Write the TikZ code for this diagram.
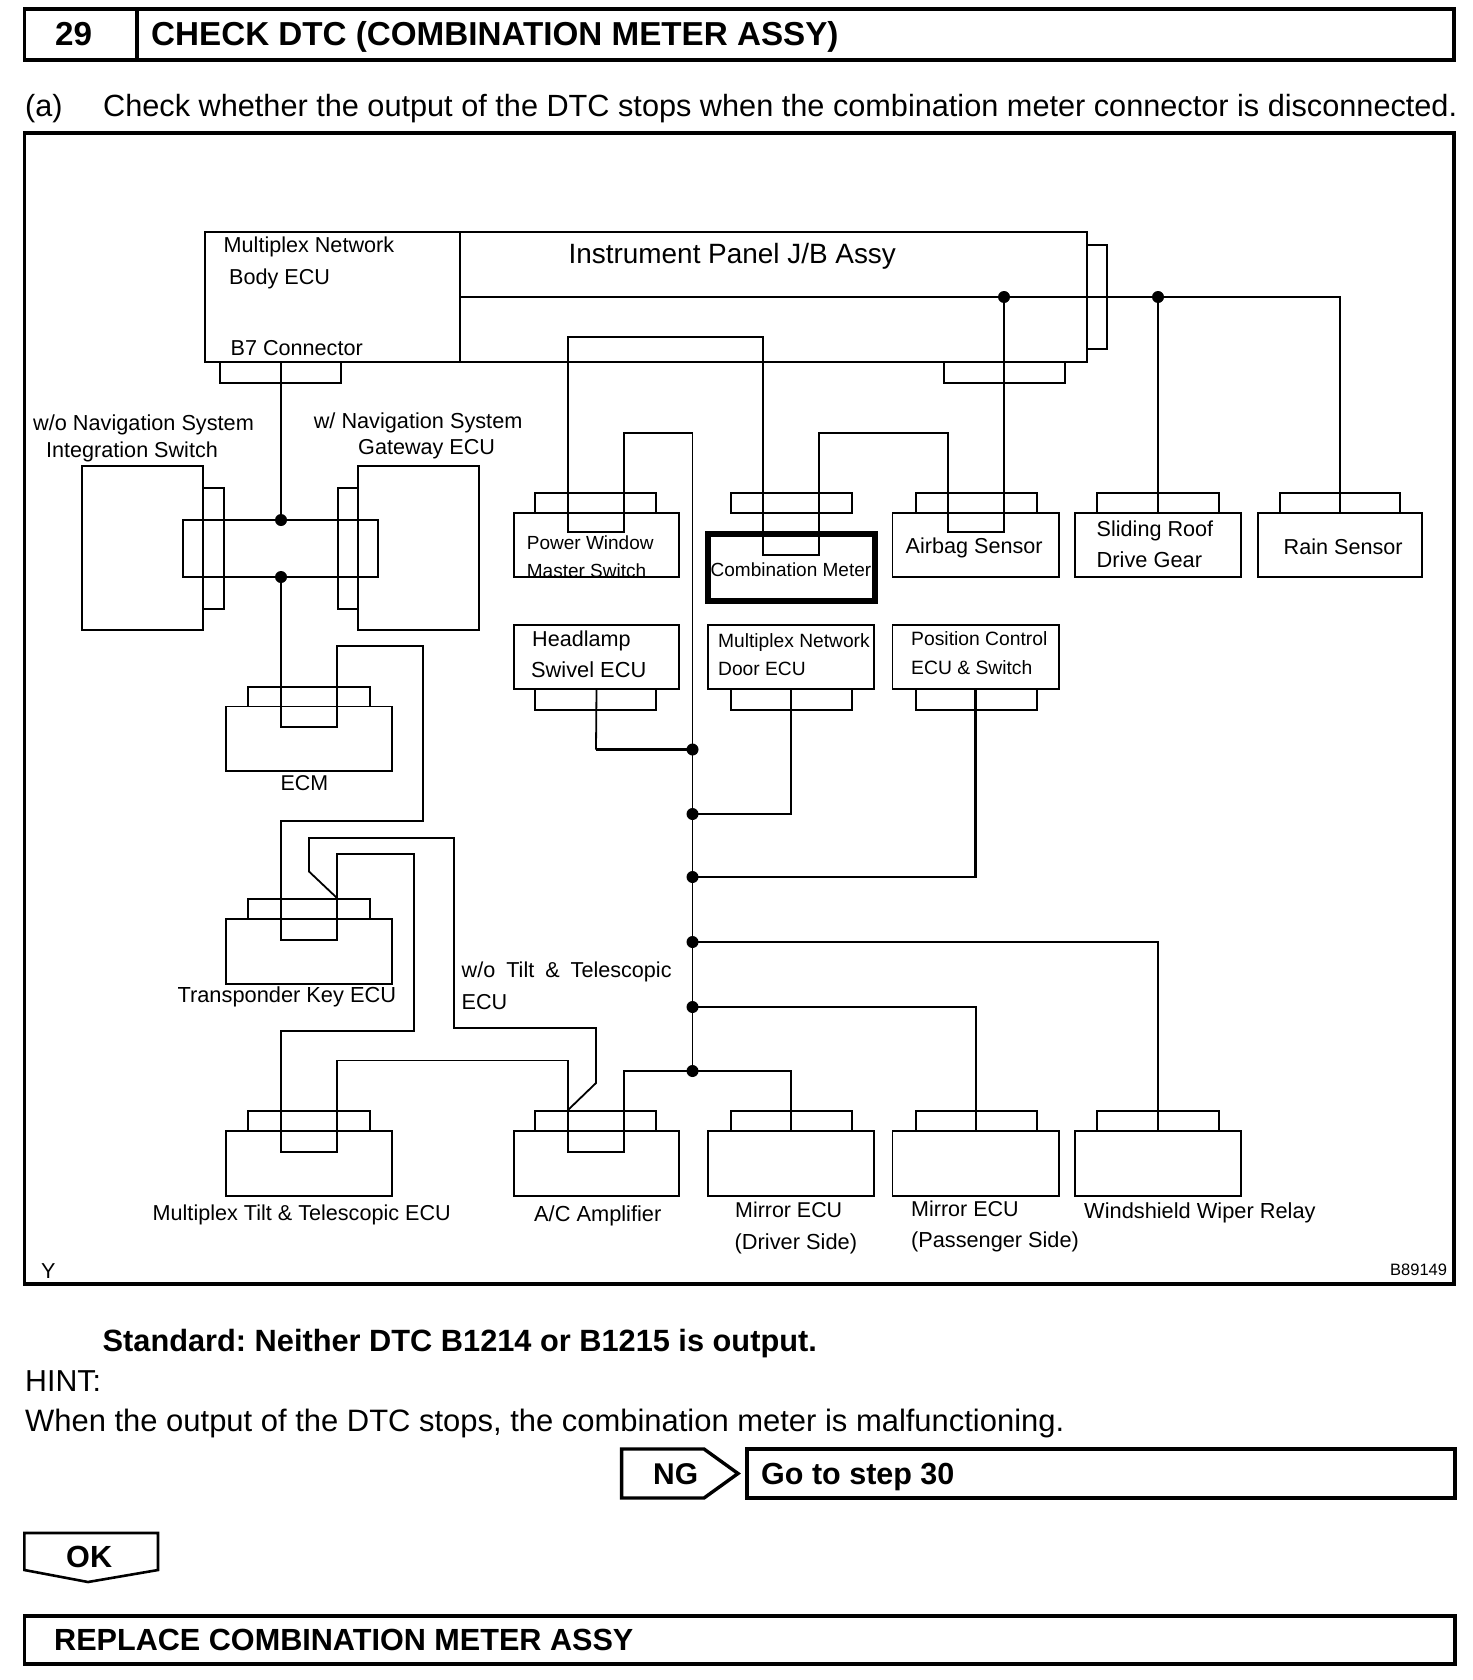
\documentclass[tikz,border=0pt]{standalone}
\usepackage{fontspec}
\setmainfont{Liberation Sans}
\tikzset{
  unit/.style 2 args={draw, line width=1.8pt, outer sep=0pt, inner sep=0pt, minimum width=#1, minimum height=#2},
  frame/.style 2 args={draw, line width=3.4pt, outer sep=0pt, inner sep=0pt, minimum width=#1, minimum height=#2},
  dot/.style={circle, fill, inner sep=0pt, minimum size=12pt},
  wire/.style={line width=1.8pt, line join=miter},
  thinwire/.style={line width=1.3pt},
  heavywire/.style={line width=2.7pt},
  lbl/.style={anchor=base west, inner sep=0pt, font=\fontsize{#1}{#1}\selectfont\frenchspacing},
  blbl/.style={anchor=base west, inner sep=0pt, font=\fontsize{#1}{#1}\selectfont\bfseries\frenchspacing}
}
\begin{document}
\begin{tikzpicture}[x=1pt,y=-1pt]
  \useasboundingbox (0,0) rectangle (1472,1680);
  \fill[white] (0,0) rectangle (1472,1680);

  % heading and outer frames
  \node[frame={113}{51}] (numbox) at (80.7,34.5) {};
  \node[frame={1317}{51}] (titlebox) at (795.5,34.5) {};
  \node[frame={1429.6}{1151}] (sheet) at (739.2,708.5) {};
  \node[frame={708}{49}] (gotobox) at (1101,1473.5) {};
  \node[frame={1430.6}{48}] (replacebox) at (739.7,1640) {};
  \draw[line width=3.4pt] (621.6,1449) -- (704,1449) -- (738,1473.5) -- (704,1498) -- (621.6,1498) -- cycle;
  \draw[line width=2.6pt] (24.4,1533) -- (158,1533) -- (158,1570) -- (88,1582) -- (24.4,1570) -- cycle;

  % top units
  \node[unit={255}{130}] (body) at (332.5,297) {};
  \node[unit={627}{130}] (jb) at (773.5,297) {};
  \node[unit={20}{104}] (jbside) at (1097,297) {};
  \node[unit={121}{21}] (jbtab) at (1004.5,372.5) {};
  \node[unit={121}{21}] (bodytab) at (280.5,372.5) {};

  % navigation pair
  \node[unit={121}{164}] (intsw) at (142.5,548) {};
  \node[unit={21}{121}] (intswtab) at (213.5,548.5) {};
  \node[unit={121}{164}] (gateway) at (418.5,548) {};
  \node[unit={20}{121}] (gatewaytab) at (348,548.5) {};

  % first row
  \node[unit={165}{64}] (powerwin) at (596.5,545) {};
  \node[unit={121}{20}] (powerwintab) at (595.5,503) {};
  \node[unit={121}{20}] (combtab) at (791.25,503) {};
  \node[draw, line width=5.2pt, outer sep=0pt, minimum width=167, minimum height=67] (comb) at (791.5,567.5) {};
  \node[unit={166.5}{64}] (airbag) at (975.75,545) {};
  \node[unit={121}{20}] (airbagtab) at (976.5,503) {};
  \node[unit={166}{64}] (sliding) at (1158,545) {};
  \node[unit={122}{20}] (slidingtab) at (1158,503) {};
  \node[unit={164}{64}] (rain) at (1340,545) {};
  \node[unit={120}{20}] (raintab) at (1340,503) {};

  % second row
  \node[unit={165}{64}] (headlamp) at (596.5,657) {};
  \node[unit={121}{21}] (headlamptab) at (595.5,699.5) {};
  \node[unit={166}{64}] (door) at (791,657) {};
  \node[unit={121}{21}] (doortab) at (791.25,699.5) {};
  \node[unit={166.5}{64}] (position) at (975.75,657) {};
  \node[unit={121}{21}] (positiontab) at (976.5,699.5) {};

  % left column
  \node[unit={166}{64.5}] (ecm) at (309,738.75) {};
  \node[unit={122}{19.5}] (ecmtab) at (309,696.75) {};
  \node[unit={166}{65.4}] (transp) at (309,951.3) {};
  \node[unit={122}{19.6}] (transptab) at (309,908.8) {};

  % bottom row
  \node[unit={166}{65}] (tilt) at (309,1163.5) {};
  \node[unit={122}{20}] (tilttab) at (309,1121) {};
  \node[unit={165}{65}] (ac) at (596.5,1163.5) {};
  \node[unit={121}{20}] (actab) at (595.5,1121) {};
  \node[unit={166}{65}] (mirrord) at (791,1163.5) {};
  \node[unit={121}{20}] (mirrordtab) at (791.25,1121) {};
  \node[unit={166.5}{65}] (mirrorp) at (975.75,1163.5) {};
  \node[unit={121}{20}] (mirrorptab) at (976.5,1121) {};
  \node[unit={166}{65}] (wiper) at (1158,1163.5) {};
  \node[unit={122}{20}] (wipertab) at (1158,1121) {};

  % junctions
  \node[dot] (jbus1) at (1004,297) {};
  \node[dot] (jbus2) at (1158,297) {};
  \node[dot] (jsw1) at (281,520) {};
  \node[dot] (jsw2) at (281,577) {};
  \node[dot] (jm1) at (692.5,749.5) {};
  \node[dot] (jm2) at (692.5,814) {};
  \node[dot] (jm3) at (692.5,877) {};
  \node[dot] (jm4) at (692.5,942) {};
  \node[dot] (jm5) at (692.5,1007) {};
  \node[dot] (jm6) at (692.5,1071) {};
  \coordinate (jbstart) at (460,297);
  \coordinate (b7out) at (281,362);
  \coordinate (acpin) at (568,1110);
  \coordinate (transppin) at (337,898);

  % wiring
  \draw[wire] (jbstart) -- (jbus1.center) -- (jbus2.center) -| (rain.north);
  \draw[wire] (jbus2.center) -- (sliding.north);
  \draw[wire] (b7out) -- (jsw1.center);
  \draw[wire] (jsw1.center) -| (183,577) -- (378,577) |- (jsw1.center);
  \draw[wire] (jbus1.center) -- (1004,532) -- (948,532) -- (948,433) -- (819,433) -- (819,555) -- (763,555) -- (763,337) -- (568,337) -- (568,532) -- (624,532) -- (624,433) -- (692.5,433) -- (692.5,500);
  \draw[thinwire] (692.5,500) -- (jm1.center) -- (jm2.center) -- (jm3.center) -- (jm4.center) -- (jm5.center) -- (jm6.center);
  \draw[wire] (headlamp.south) -- (596,749.5);
  \draw[heavywire] (596,749.5) -- (jm1.center);
  \draw[wire] (jm2.center) -| (door.south);
  \draw[heavywire] (jm3.center) -| (position.south);
  \draw[thinwire] (jm4.center) -| (wiper.north);
  \draw[wire] (jm5.center) -| (mirrorp.north);
  \draw[wire] (jm6.center) -| (mirrord.north);
  \draw[wire] (jm6.center) -- (624,1071) -- (624,1152) -- (568,1152) -- (568,1060.5) -- (337,1060.5) -- (337,1152) -- (281,1152) -- (281,1031) -- (414,1031) -- (414,854) -- (337,854) -- (337,940) -- (281,940) -- (281,821) -- (423,821) -- (423,646) -- (337,646) -- (337,727) -- (281,727) -- (jsw2.center);
  \draw[wire] (acpin) -- (596,1083) -- (596,1028) -- (454,1028) -- (454,838) -- (309,838) -- (309,871.5) -- (transppin);

  % heading texts
  \node[blbl=33.2] (stepnum) at (55,45.5) {29};
  \node[blbl=33.2] (steptitle) at (151,45.5) {CHECK DTC (COMBINATION METER ASSY)};
  \node[lbl=30.6] (itema) at (25,116.6) {(a)};
  \node[lbl=30.68] (itemtext) at (103,116.6) {Check whether the output of the DTC stops when the combination meter connector is disconnected.};

  % unit labels
  \node[lbl=21.6] (bodyA) at (223.5,253) {Multiplex Network};
  \node[lbl=21.6] (bodyB) at (229,284) {Body ECU};
  \node[lbl=21.6] (bodyC) at (230.5,355.6) {B7 Connector};
  \node[lbl=27.9] (jbname) at (568.5,264) {Instrument Panel J/B Assy};
  \node[lbl=21.7] (intA) at (33,430.5) {w/o Navigation System};
  \node[lbl=21.6] (intB) at (46,457.5) {Integration Switch};
  \node[lbl=21.7] (gateA) at (313.6,428.5) {w/ Navigation System};
  \node[lbl=21.6] (gateB) at (358,454.5) {Gateway ECU};
  \node[lbl=19] (pwA) at (526.7,549) {Power Window};
  \node[lbl=19] (pwB) at (526.7,577.5) {Master Switch};
  \node[lbl=19] (combname) at (710.5,576) {Combination Meter};
  \node[lbl=21.6] (airbagname) at (905.5,553.5) {Airbag Sensor};
  \node[lbl=21.6] (slA) at (1096.5,536) {Sliding Roof};
  \node[lbl=21.8] (slB) at (1096.5,567) {Drive Gear};
  \node[lbl=21.6] (rainname) at (1283.5,554) {Rain Sensor};
  \node[lbl=21.6] (headA) at (532,646) {Headlamp};
  \node[lbl=21.8] (headB) at (531,677) {Swivel ECU};
  \node[lbl=19.2] (doorA) at (718,647) {Multiplex Network};
  \node[lbl=19.2] (doorB) at (718,675) {Door ECU};
  \node[lbl=19.3] (posA) at (911,645.6) {Position Control};
  \node[lbl=19.3] (posB) at (911,674.5) {ECU \& Switch};
  \node[lbl=21.4] (ecmname) at (280.5,790.7) {ECM};
  \node[lbl=21.8] (transpname) at (177.4,1002) {Transponder Key ECU};
  \node[lbl=21.6] (wotiltA) at (461.5,977.5) {w/o\hspace{5pt} Tilt\hspace{5pt} \&\hspace{5pt} Telescopic};
  \node[lbl=21.6] (wotiltB) at (461.5,1009) {ECU};
  \node[lbl=21.6] (tiltname) at (152.5,1220) {Multiplex Tilt \& Telescopic ECU};
  \node[lbl=21.8] (acname) at (534,1221) {A/C Amplifier};
  \node[lbl=21.4] (mdA) at (735,1217.5) {Mirror ECU};
  \node[lbl=21.8] (mdB) at (734.5,1249) {(Driver Side)};
  \node[lbl=21.5] (mpA) at (911,1216) {Mirror ECU};
  \node[lbl=21.7] (mpB) at (911,1247) {(Passenger Side)};
  \node[lbl=21.8] (wipername) at (1084,1218) {Windshield Wiper Relay};
  \node[lbl=21.6] (corner) at (41,1278) {Y};
  \node[lbl=16.5] (figno) at (1390,1275.5) {B89149};

  % lower texts
  \node[blbl=30.75] (standard) at (102.5,1351) {Standard: Neither DTC B1214 or B1215 is output.};
  \node[lbl=30.3] (hint) at (25,1391) {HINT:};
  \node[lbl=30.95] (hinttext) at (25,1431) {When the output of the DTC stops, the combination meter is malfunctioning.};
  \node[blbl=30] (ngtext) at (653,1484) {NG};
  \node[blbl=30.5] (gototext) at (761,1484) {Go to step 30};
  \node[blbl=30.6] (oktext) at (66,1567) {OK};
  \node[blbl=30.6] (replacetext) at (54,1650) {REPLACE COMBINATION METER ASSY};
\end{tikzpicture}
\end{document}
